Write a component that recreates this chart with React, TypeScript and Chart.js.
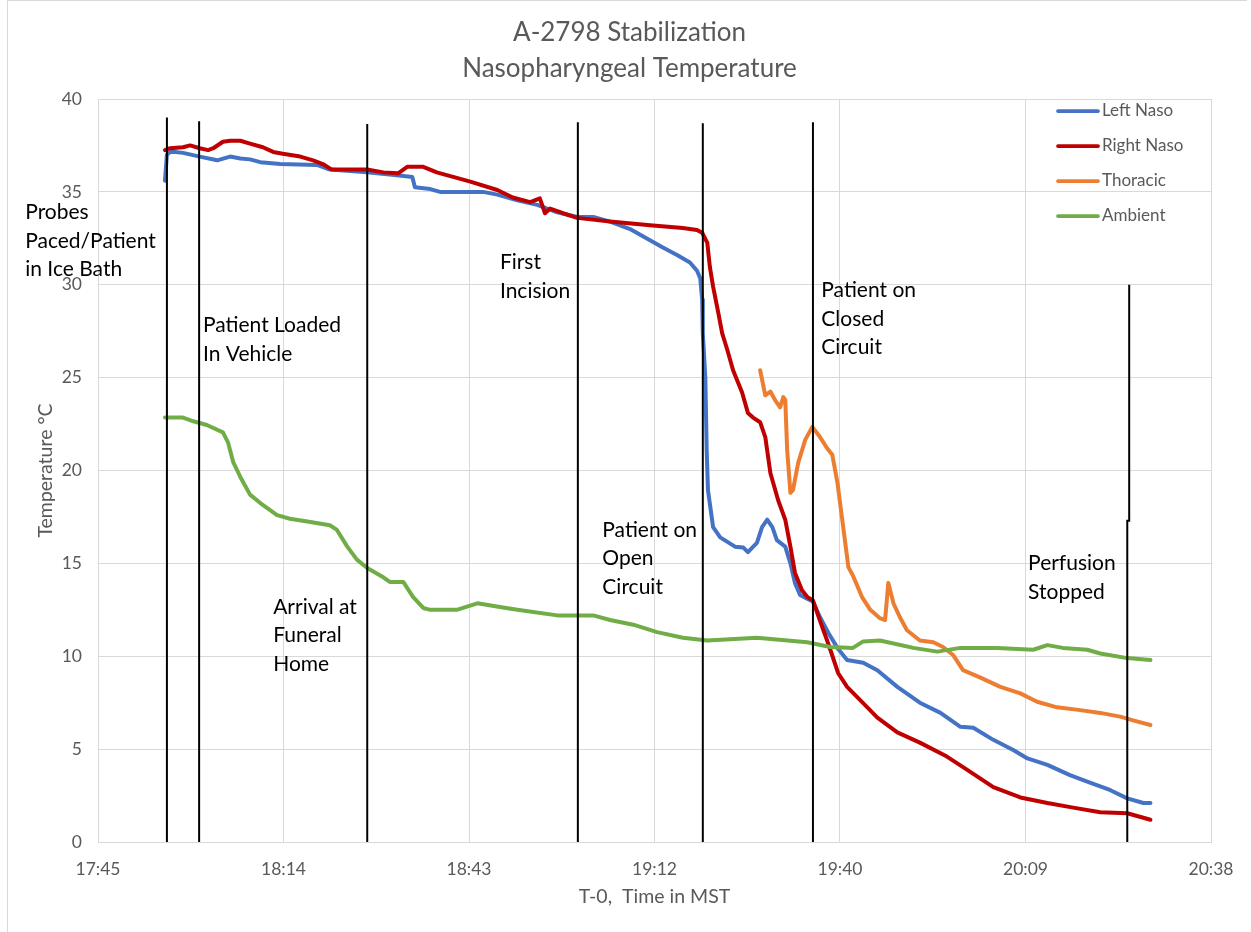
import React, { useEffect, useRef } from "react";
import { Chart, registerables } from "chart.js";

Chart.register(...registerables);

// ---------- data (time = minutes after midnight MST, temp = °C) ----------
const X_TICKS = [1065.6, 1094.4, 1123.2, 1152.0, 1180.8, 1209.6, 1238.4];
const Y_MIN = 0;
const Y_MAX = 40;
const Y_STEP = 5;

const LEFT_NASO_T = [1076.0, 1076.3, 1076.8, 1077.6, 1078.8, 1081.4, 1084.1, 1086.1, 1087.7, 1089.2, 1090.8, 1093.9, 1099.6, 1101.6, 1107.4, 1112.0, 1114.4, 1114.8, 1117.2, 1118.7, 1125.4, 1127.6, 1130.7, 1133.8, 1136.9, 1140.0, 1142.5, 1145.1, 1148.2, 1151.3, 1153.3, 1155.5, 1157.5, 1158.6, 1159.1, 1159.4, 1159.5, 1159.9, 1160.1, 1160.3, 1161.1, 1162.2, 1164.5, 1165.8, 1166.5, 1167.9, 1168.7, 1169.5, 1170.3, 1171.0, 1172.3, 1173.1, 1173.8, 1174.6, 1175.7, 1176.6, 1177.7, 1179.0, 1180.4, 1181.9, 1184.4, 1186.6, 1189.7, 1193.2, 1196.4, 1199.5, 1201.5, 1204.6, 1207.7, 1209.9, 1213.0, 1216.5, 1219.6, 1222.7, 1225.4, 1227.9, 1229.0];
const LEFT_NASO_V = [35.6, 37.0, 37.15, 37.15, 37.1, 36.9, 36.7, 36.9, 36.8, 36.75, 36.6, 36.5, 36.45, 36.2, 36.05, 35.9, 35.8, 35.25, 35.15, 35.0, 35.0, 34.85, 34.55, 34.3, 33.9, 33.65, 33.65, 33.4, 33.0, 32.4, 32.0, 31.6, 31.2, 30.75, 30.35, 29.2, 27.4, 24.9, 21.1, 18.95, 16.95, 16.4, 15.9, 15.85, 15.6, 16.1, 16.95, 17.35, 16.95, 16.25, 15.9, 15.0, 13.95, 13.3, 13.1, 12.95, 12.1, 11.25, 10.45, 9.8, 9.65, 9.25, 8.35, 7.5, 6.95, 6.2, 6.15, 5.5, 4.95, 4.5, 4.15, 3.6, 3.2, 2.8, 2.35, 2.1, 2.1];

const RIGHT_NASO_T = [1076.0, 1076.8, 1078.8, 1079.9, 1081.4, 1082.7, 1083.5, 1085.0, 1086.1, 1087.7, 1089.2, 1091.2, 1092.8, 1094.3, 1097.0, 1099.0, 1100.5, 1101.9, 1107.4, 1109.9, 1112.2, 1113.6, 1116.1, 1118.2, 1120.3, 1121.3, 1123.4, 1127.6, 1130.0, 1132.7, 1134.2, 1135.0, 1135.8, 1137.8, 1140.0, 1145.1, 1151.3, 1156.4, 1158.6, 1159.4, 1160.2, 1160.6, 1161.1, 1161.9, 1162.5, 1163.3, 1164.2, 1165.6, 1166.5, 1167.3, 1168.4, 1169.2, 1170.0, 1171.2, 1172.3, 1173.1, 1173.8, 1174.9, 1175.7, 1176.6, 1177.7, 1178.8, 1179.3, 1180.5, 1181.9, 1183.9, 1186.6, 1189.7, 1193.2, 1197.4, 1200.5, 1204.6, 1208.8, 1213.0, 1217.0, 1221.2, 1225.4, 1229.0];
const RIGHT_NASO_V = [37.25, 37.35, 37.4, 37.5, 37.35, 37.25, 37.35, 37.7, 37.75, 37.75, 37.6, 37.4, 37.15, 37.05, 36.9, 36.7, 36.5, 36.2, 36.2, 36.05, 36.0, 36.35, 36.35, 36.05, 35.85, 35.75, 35.55, 35.1, 34.7, 34.45, 34.65, 33.85, 34.1, 33.85, 33.6, 33.4, 33.2, 33.05, 32.95, 32.8, 32.25, 30.95, 29.9, 28.5, 27.4, 26.5, 25.4, 24.2, 23.1, 22.85, 22.6, 21.8, 19.85, 18.4, 17.35, 15.9, 14.5, 13.55, 13.2, 13.0, 11.9, 10.85, 10.35, 9.1, 8.35, 7.65, 6.7, 5.9, 5.35, 4.6, 3.9, 2.95, 2.4, 2.1, 1.85, 1.6, 1.55, 1.2];

const THORACIC_T = [1168.4, 1169.2, 1170.0, 1170.7, 1171.5, 1172.0, 1172.3, 1172.6, 1173.1, 1173.5, 1174.3, 1175.4, 1176.5, 1177.7, 1178.8, 1179.6, 1180.4, 1181.3, 1182.1, 1182.8, 1184.2, 1185.5, 1187.0, 1187.8, 1188.3, 1189.1, 1190.1, 1191.2, 1193.2, 1195.3, 1196.8, 1198.4, 1199.9, 1202.6, 1205.7, 1208.8, 1211.4, 1214.5, 1218.1, 1221.2, 1224.3, 1226.3, 1229.0];
const THORACIC_V = [25.4, 24.05, 24.25, 23.8, 23.4, 23.95, 23.8, 21.1, 18.8, 18.95, 20.4, 21.65, 22.35, 21.8, 21.2, 20.85, 19.35, 16.95, 14.8, 14.35, 13.2, 12.5, 12.05, 11.95, 13.95, 12.85, 12.1, 11.4, 10.85, 10.75, 10.5, 10.05, 9.25, 8.85, 8.35, 8.0, 7.55, 7.25, 7.1, 6.95, 6.75, 6.55, 6.3];

const AMBIENT_T = [1076.0, 1078.8, 1080.4, 1082.5, 1085.0, 1085.8, 1086.6, 1087.7, 1089.2, 1090.8, 1093.4, 1095.4, 1098.1, 1101.6, 1102.7, 1104.3, 1105.8, 1107.4, 1109.9, 1110.9, 1113.0, 1114.5, 1116.1, 1117.2, 1121.3, 1124.5, 1128.0, 1130.7, 1136.9, 1142.5, 1145.1, 1148.7, 1152.4, 1156.4, 1160.2, 1167.9, 1175.7, 1179.3, 1182.8, 1184.4, 1187.0, 1192.2, 1195.9, 1199.5, 1205.2, 1210.8, 1213.0, 1215.4, 1219.2, 1221.2, 1225.4, 1229.0];
const AMBIENT_V = [22.85, 22.85, 22.65, 22.45, 22.05, 21.5, 20.45, 19.65, 18.7, 18.25, 17.6, 17.4, 17.25, 17.05, 16.8, 15.9, 15.2, 14.75, 14.25, 14.0, 14.0, 13.2, 12.6, 12.5, 12.5, 12.85, 12.65, 12.5, 12.2, 12.2, 11.95, 11.7, 11.3, 11.0, 10.85, 11.0, 10.75, 10.5, 10.45, 10.8, 10.85, 10.45, 10.25, 10.45, 10.45, 10.35, 10.6, 10.45, 10.35, 10.15, 9.9, 9.8];

// event markers (vertical black lines)
const EVENT_T = [1076.3, 1081.3, 1107.4, 1140.1, 1159.5, 1176.6];
const EVENT_TOP = [39.0, 38.8, 38.65, 38.75, 38.7, 38.75];
const STOP_T = [1225.7, 1225.7, 1225.4, 1225.4];
const STOP_V = [30.0, 17.3, 17.3, 0];

// annotations
const NOTE_LINES = [
  ["Probes", "Paced/Patient", "in Ice Bath"],
  ["Patient Loaded", "In Vehicle"],
  ["Arrival at", "Funeral", "Home"],
  ["First", "Incision"],
  ["Patient on", "Open", "Circuit"],
  ["Patient on", "Closed", "Circuit"],
  ["Perfusion", "Stopped"],
];
const NOTE_T = [1054.3, 1081.9, 1092.8, 1128.0, 1143.9, 1177.9, 1210.0];
const NOTE_V = [33.9, 27.8, 12.65, 31.2, 16.8, 29.7, 15.0];

const SERIES_NAMES = ["Left Naso", "Right Naso", "Thoracic", "Ambient"];
const SERIES_COLORS = ["#4472C4", "#C00000", "#ED7D31", "#70AD47"];

const TITLE_LINES = ["A-2798 Stabilization", "Nasopharyngeal Temperature"];
const X_TITLE = "T-0,  Time in MST";
const Y_TITLE = "Temperature \u00B0C";

// ---------- helpers ----------
const FONT = "Lato, 'Open Sans', sans-serif";
const GREY = "#595959";

function pts(t: number[], v: number[]) {
  return t.map((x, i) => ({ x, y: v[i] }));
}

function fmtTime(v: number) {
  const m = Math.floor(Math.round(v * 10) / 10);
  const h = Math.floor(m / 60);
  const mm = m % 60;
  return `${h}:${String(mm).padStart(2, "0")}`;
}

const overlayPlugin = {
  id: "overlay",
  beforeDraw(chart: any) {
    const ctx = chart.ctx;
    ctx.save();
    ctx.strokeStyle = "#D9D9D9";
    ctx.lineWidth = 1;
    ctx.beginPath();
    ctx.moveTo(7.5, chart.height);
    ctx.lineTo(7.5, 0.5);
    ctx.lineTo(1247, 0.5);
    ctx.stroke();
    ctx.restore();
  },
  afterDraw(chart: any) {
    const { ctx, chartArea, scales } = chart;
    ctx.save();
    // annotations
    ctx.fillStyle = "#000000";
    ctx.font = `21px ${FONT}`;
    ctx.textAlign = "left";
    ctx.textBaseline = "middle";
    NOTE_LINES.forEach((lines, i) => {
      const x = scales.x.getPixelForValue(NOTE_T[i]);
      const y = scales.y.getPixelForValue(NOTE_V[i]);
      lines.forEach((s, j) => ctx.fillText(s, x, y + j * 28.7));
    });
    // legend (inside plot, top right)
    ctx.font = `17px ${FONT}`;
    ctx.fillStyle = GREY;
    SERIES_NAMES.forEach((name, i) => {
      const y = chartArea.top + 12 + i * 35;
      const x0 = chartArea.right - 153;
      ctx.strokeStyle = SERIES_COLORS[i];
      ctx.lineWidth = 3.75;
      ctx.lineCap = "round";
      ctx.beginPath();
      ctx.moveTo(x0, y);
      ctx.lineTo(x0 + 40, y);
      ctx.stroke();
      ctx.fillText(name, x0 + 44, y);
    });
    ctx.restore();
  },
};

export default function App() {
  const ref = useRef<HTMLCanvasElement | null>(null);

  useEffect(() => {
    if (!ref.current) return;
    const lineDs = (i: number, t: number[], v: number[], order: number) => ({
      label: SERIES_NAMES[i],
      data: pts(t, v),
      borderColor: SERIES_COLORS[i],
      backgroundColor: SERIES_COLORS[i],
      borderWidth: 4,
      pointRadius: 0,
      tension: 0,
      borderJoinStyle: "round",
      borderCapStyle: "round",
      order,
    });
    const eventDs = EVENT_T.map((t, i) => ({
      label: "event" + i,
      data: [
        { x: t, y: 0 },
        { x: t, y: EVENT_TOP[i] },
      ],
      borderColor: "#000000",
      borderWidth: 2,
      pointRadius: 0,
      order: 0,
    }));
    const stopDs = {
      label: "stop",
      data: pts(STOP_T, STOP_V),
      borderColor: "#000000",
      borderWidth: 2,
      pointRadius: 0,
      order: 0,
    };

    const chart = new Chart(ref.current, {
      type: "line",
      data: {
        datasets: [
          lineDs(0, LEFT_NASO_T, LEFT_NASO_V, 4),
          lineDs(1, RIGHT_NASO_T, RIGHT_NASO_V, 3),
          lineDs(2, THORACIC_T, THORACIC_V, 2),
          lineDs(3, AMBIENT_T, AMBIENT_V, 1),
          ...eventDs,
          stopDs,
        ] as any,
      },
      options: {
        animation: false,
        responsive: false,
        devicePixelRatio: 1,
        layout: { padding: { left: 48, right: 40, top: 0, bottom: 0 } },
        plugins: {
          legend: { display: false },
          tooltip: { enabled: false },
          title: {
            display: true,
            text: TITLE_LINES,
            color: GREY,
            font: { family: FONT, size: 26, weight: "normal", lineHeight: 36 / 26 },
            padding: { top: 15, bottom: 12 },
          },
        },
        scales: {
          x: {
            type: "linear",
            min: X_TICKS[0],
            max: X_TICKS[X_TICKS.length - 1],
            afterBuildTicks: (scale: any) => {
              scale.ticks = X_TICKS.map((v) => ({ value: v }));
            },
            afterFit: (scale: any) => {
              scale.height = 90;
            },
            grid: { color: "#D9D9D9", lineWidth: 1, drawTicks: false },
            border: { display: true, color: "#D9D9D9" },
            ticks: {
              color: GREY,
              font: { family: FONT, size: 17.5, lineHeight: 1.2 },
              padding: 16.5,
              maxRotation: 0,
              autoSkip: false,
              callback: (v: any) => fmtTime(Number(v)),
            },
            title: {
              display: true,
              text: X_TITLE,
              color: GREY,
              font: { family: FONT, size: 19.5, lineHeight: 1.2 },
              padding: { top: 0, bottom: 23.3 },
            },
          },
          y: {
            type: "linear",
            min: Y_MIN,
            max: Y_MAX,
            afterFit: (scale: any) => {
              scale.width = 50;
            },
            grid: { color: "#D9D9D9", lineWidth: 1, drawTicks: false },
            border: { display: true, color: "#D9D9D9" },
            ticks: {
              stepSize: Y_STEP,
              color: GREY,
              font: { family: FONT, size: 17.5, lineHeight: 1.2 },
              padding: 16,
            },
            title: {
              display: true,
              text: Y_TITLE,
              color: GREY,
              font: { family: FONT, size: 19.5, lineHeight: 1.2 },
              padding: { top: -13.7, bottom: 0 },
            },
          },
        },
      },
      plugins: [overlayPlugin],
    });
    return () => chart.destroy();
  }, []);

  return (
    <div style={{ position: "absolute", left: 0, top: 0, width: 1251, height: 932, background: "#ffffff" }}>
      <canvas ref={ref} width={1251} height={932} />
    </div>
  );
}
